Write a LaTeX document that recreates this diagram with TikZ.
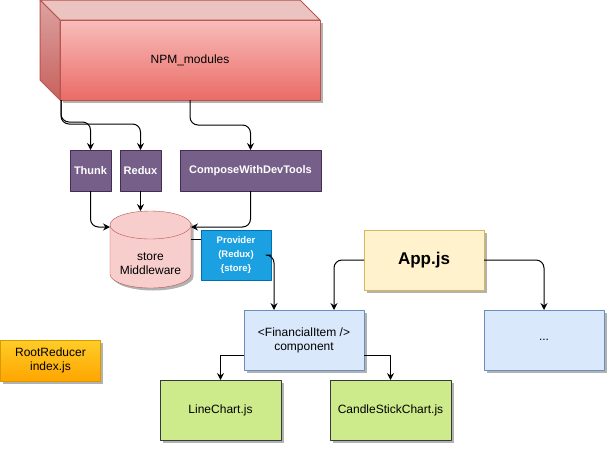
\documentclass[tikz,border=0pt]{standalone}
\usepackage{fontspec}
\setmainfont{Liberation Sans}
\usetikzlibrary{arrows.meta,shadows,calc,backgrounds}
\definecolor{npmtop}{HTML}{F8BDBB}
\definecolor{npmbot}{HTML}{EA6B66}
\definecolor{npmline}{HTML}{B85450}
\definecolor{npmlid}{HTML}{EBC3C1}
\definecolor{npmsidetop}{HTML}{DCA3A1}
\definecolor{npmsidebot}{HTML}{C8615D}
\definecolor{purpfill}{HTML}{76608A}
\definecolor{purpline}{HTML}{432D57}
\definecolor{storefill}{HTML}{F8CECC}
\definecolor{provfill}{HTML}{1BA1E2}
\definecolor{provline}{HTML}{006EAF}
\definecolor{appfill}{HTML}{FFF2CC}
\definecolor{appline}{HTML}{D6B656}
\definecolor{compfill}{HTML}{DAE8FC}
\definecolor{compline}{HTML}{6C8EBF}
\definecolor{chartfill}{HTML}{CDEB8B}
\definecolor{chartline}{HTML}{36393D}
\definecolor{roottop}{HTML}{FFCD28}
\definecolor{rootbot}{HTML}{FFA500}
\definecolor{rootline}{HTML}{D79B00}
\begin{document}
\begin{tikzpicture}[x=1pt,y=-1pt,>={Stealth[length=7pt,width=7pt,inset=2.5pt]},line join=round,line width=1pt,
	box/.style={draw,rectangle,inner sep=0pt,outer sep=0pt,align=center,font=\fontsize{12}{14}\selectfont},
	tool/.style={box,fill=purpfill,draw=purpline,text=white,font=\bfseries\fontsize{11}{13}\selectfont,minimum height=41},
	comp/.style={box,fill=compfill,draw=compline,minimum width=120,minimum height=60,shade2},
	chart/.style={box,fill=chartfill,draw=chartline,minimum width=121,minimum height=60,shade2},
	shade2/.style={drop shadow={shadow xshift=2.5pt,shadow yshift=-2.5pt,opacity=.3,fill=black}},
	link/.style={->,line width=1pt}]
	\useasboundingbox (0,0) rectangle (616,453);
	\def\d{20} % tiefe der box
	\def\rx{40.5pt} \def\ry{14pt} % radien deckel
	% npm modules
	\node[box,top color=npmtop,bottom color=npmbot,draw=npmline,minimum width=260,minimum height=80,shade2] (npm) at (190,60) {NPM\_modules};
	\draw[npmline,fill=npmlid] (npm.north west) -- ++(-\d,-\d) -- ($(npm.north east)+(-\d,-\d)$) -- (npm.north east) -- cycle;
	\draw[npmline,top color=npmsidetop,bottom color=npmsidebot] (npm.north west) -- ++(-\d,-\d) -- ++(0,80) -- (npm.south west) -- cycle;
	\node[tool,minimum width=41] (thunk) at (90.5,170.5) {Thunk};
	\node[tool,minimum width=41] (redux) at (140.5,170.5) {Redux};
	\node[tool,minimum width=141] (compose) at (250.5,170.5) {ComposeWithDevTools};
	\draw[link,rounded corners=8] ([xshift=1]npm.south west) -- ++(0,22) -| (thunk);
	\draw[link,rounded corners=8] ([xshift=1]npm.south west) -- ++(0,24) -| (redux);
	\draw[link,rounded corners=8] (npm.south) -- ++(0,25) -| (compose);
	% store (zylinder unter dem deckel)
	\node[inner sep=0pt,outer sep=0pt,minimum width=81,minimum height=49,align=center,font=\fontsize{12}{14}\selectfont] (store) at (150.5,263.5) {store\\Middleware};
	\coordinate (storetop) at ([yshift=28]store.north);
	\coordinate (storel) at ([yshift=12]store.north west);
	\coordinate (storer) at ([yshift=12]store.north east);
	\begin{scope}[on background layer]
		\draw[npmline,fill=storefill,shade2] ([yshift=14]store.north west) -- ([yshift=14]store.south west) arc[start angle=180,end angle=360,x radius=\rx,y radius=\ry] -- ([yshift=14]store.north east) arc[start angle=0,end angle=180,x radius=\rx,y radius=\ry] -- cycle;
		\draw[npmline] ([yshift=14]store.north west) arc[start angle=180,end angle=360,x radius=\rx,y radius=\ry];
	\end{scope}
	\draw[link,rounded corners=8] (thunk) |- (storel);
	\draw[link] (redux.south) -- (redux.south |- storetop);
	\draw[link,rounded corners=8] (compose) |- (storer);
	\node[box,fill=provfill,draw=provline,text=white,font=\bfseries\fontsize{9.5}{14}\selectfont,minimum width=70,minimum height=50] (provider) at (236,255) {Provider\\(Redux)\\\{store\}};
	\draw ([yshift=-12]storer) -- ([yshift=-12]storer -| provider.west);
	% app
	\node[box,fill=appfill,draw=appline,font=\bfseries\fontsize{17}{20}\selectfont,minimum width=120,minimum height=60,shade2] (app) at (424,260) {App.js};
	\node[comp] (fin) at (304,340) {<FinancialItem />\\component};
	\node[comp] (dots) at (544,340) {...};
	\draw[link,rounded corners=8] (provider.east) -| ($(fin.north west)!0.25!(fin.north east)$);
	\draw[link,rounded corners=8] (app.west) -| ($(fin.north west)!0.75!(fin.north east)$);
	\draw[link,rounded corners=8] (app.east) -| (dots.north);
	% charts
	\node[chart] (line) at (220.5,410) {LineChart.js};
	\node[chart] (candle) at (390.5,410) {CandleStickChart.js};
	\draw[link] ($(fin.north west)!0.75!(fin.south west)$) -| (line.north);
	\draw[link] ($(fin.north east)!0.75!(fin.south east)$) -| (candle.north);
	% root reducer
	\node[box,top color=roottop,bottom color=rootbot,draw=rootline,minimum width=100,minimum height=41,shade2] (root) at (50.5,360.5) {RootReducer\\index.js};
\end{tikzpicture}
\end{document}
